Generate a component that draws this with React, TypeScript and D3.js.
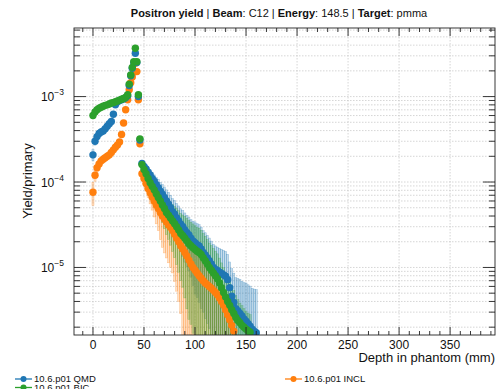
import React from "react";
import * as d3 from "d3";

// Depth bins (mm): entrance plateau, Bragg-peak region, distal tail
const depth = [
  0, 2, 4, 6, 8, 10, 12, 14, 16, 18, 20, 22, 24, 26, 28, 30, 32, 34,
  35.5, 37, 38.5, 40, 41.5, 43, 44.5, 46,
  48, 50, 52, 54, 56, 58, 60, 62, 64, 66, 68, 70, 72, 74, 76, 78, 80, 82, 84, 86,
  88, 90, 92, 94, 96, 98, 100, 102, 104, 106, 108, 110, 112, 114, 116, 118, 120,
  122, 124, 126, 128, 130, 132, 134, 136, 138, 140, 142, 144, 146, 148, 150, 152,
  154, 156, 158, 160,
];

// 10.6.p01 QMD
const qmdYield: (number | null)[] = [
  2.08e-4, 3.0e-4, 3.4e-4, 3.7e-4, 3.85e-4, 3.95e-4, 4.2e-4, 4.5e-4, 4.8e-4, 5.1e-4,
  6.2e-4, 8.0e-4, 8.7e-4, 9.0e-4, 9.2e-4, 9.4e-4, 9.7e-4, 1.02e-3,
  1.35e-3, 1.75e-3, 2.15e-3, 2.5e-3, 3.22e-3, 2.5e-3, 1.0e-3, 3.1e-4,
  1.65e-4, 1.52e-4, 1.42e-4, 1.3e-4, 1.21e-4, 1.1e-4, 1.02e-4, 9.3e-5, 8.6e-5, 7.8e-5,
  7.2e-5, 6.6e-5, 6.0e-5, 5.5e-5, 5.0e-5, 4.5e-5, 4.2e-5, 3.8e-5, 3.5e-5, 3.2e-5,
  3.0e-5, 2.75e-5, 2.55e-5, 2.4e-5, 2.2e-5, 2.05e-5, 1.95e-5, 1.85e-5, 1.78e-5, 1.65e-5,
  1.5e-5, 1.4e-5, 1.3e-5, 1.2e-5, 1.1e-5, 1.0e-5, 9.5e-6, 9.2e-6, 8.8e-6, 8.5e-6,
  8.2e-6, 7.9e-6, 7.2e-6, 5.8e-6, 4.6e-6, 3.9e-6, 3.3e-6, 3.1e-6, 2.9e-6, 2.7e-6,
  2.5e-6, 2.35e-6, 2.2e-6, 2.05e-6, 1.9e-6, 1.8e-6, 1.72e-6,
];
const qmdRelErr: (number | null)[] = [
  0.15, 0.1, 0.08, 0.07, 0.07, 0.06, 0.06, 0.06, 0.05, 0.05, 0.05, 0.05, 0.05, 0.04, 0.04, 0.04, 0.04, 0.04,
  0.04, 0.04, 0.04, 0.03, 0.03, 0.03, 0.04, 0.06,
  0.08, 0.09, 0.11, 0.13, 0.15, 0.17, 0.19, 0.22, 0.25, 0.27,
  0.3, 0.32, 0.35, 0.38, 0.4, 0.42, 0.45, 0.48, 0.5, 0.52,
  0.55, 0.58, 0.6, 0.62, 0.65, 0.7, 0.75, 0.76, 0.78, 0.8,
  0.8, 0.82, 0.83, 0.84, 0.85, 0.86, 0.88, 0.88, 0.9, 0.92,
  0.93, 0.95, 0.98, 1.0, 1.1, 1.2, 1.3, 1.4, 1.5, 1.55,
  1.65, 1.8, 1.85, 1.95, 2.0, 2.1, 2.2,
];

// 10.6.p01 BIC
const bicYield: (number | null)[] = [
  6.0e-4, 6.6e-4, 7.0e-4, 7.3e-4, 7.5e-4, 7.7e-4, 7.9e-4, 8.0e-4, 8.2e-4, 8.4e-4,
  8.5e-4, 8.7e-4, 8.9e-4, 9.1e-4, 9.3e-4, 9.5e-4, 9.8e-4, 1.05e-3,
  1.4e-3, 1.79e-3, 2.2e-3, 2.56e-3, 3.68e-3, 2.56e-3, 1.05e-3, 3.2e-4,
  1.6e-4, 1.4e-4, 1.25e-4, 1.1e-4, 9.8e-5, 8.9e-5, 8.1e-5, 7.3e-5, 6.6e-5, 6.0e-5,
  5.4e-5, 4.9e-5, 4.4e-5, 4.1e-5, 3.8e-5, 3.5e-5, 3.25e-5, 3.0e-5, 2.75e-5, 2.5e-5,
  2.35e-5, 2.2e-5, 2.05e-5, 1.9e-5, 1.8e-5, 1.7e-5, 1.62e-5, 1.55e-5, 1.5e-5, 1.42e-5,
  1.3e-5, 1.2e-5, 1.1e-5, 1.0e-5, 9.3e-6, 8.6e-6, 8.0e-6, 7.4e-6, 6.6e-6, 5.8e-6,
  5.1e-6, 4.5e-6, 4.0e-6, 3.6e-6, 3.2e-6, 2.9e-6, 2.6e-6, 2.4e-6, 2.25e-6, 2.1e-6,
  2.0e-6, 1.9e-6, 1.82e-6, 1.75e-6, null, null, null,
];
const bicRelErr: (number | null)[] = [
  0.06, 0.05, 0.05, 0.05, 0.04, 0.04, 0.04, 0.04, 0.04, 0.04, 0.04, 0.04, 0.04, 0.04, 0.04, 0.04, 0.04, 0.04,
  0.03, 0.03, 0.03, 0.03, 0.03, 0.03, 0.04, 0.06,
  0.1, 0.12, 0.14, 0.17, 0.2, 0.23, 0.26, 0.28, 0.3, 0.34,
  0.38, 0.42, 0.45, 0.48, 0.52, 0.56, 0.6, 0.64, 0.68, 0.72,
  0.75, 0.8, 0.84, 0.87, 0.88, 0.9, 0.9, 0.9, 0.92, 0.92,
  0.92, 0.93, 0.93, 0.93, 0.94, 0.94, 0.94, 0.95, 0.95, 0.95,
  0.95, 0.95, 0.95, 0.95, 0.9, 0.85, 0.8, 0.75, 0.7, 0.7,
  0.65, 0.6, 0.6, 0.6, null, null, null,
];

// 10.6.p01 INCL
const inclYield: (number | null)[] = [
  7.6e-5, 1.2e-4, 1.47e-4, 1.63e-4, 1.77e-4, 1.85e-4, 1.92e-4, 2.0e-4, 2.08e-4, 2.22e-4,
  2.38e-4, 2.55e-4, 2.72e-4, 2.95e-4, 3.6e-4, 4.9e-4, 7.0e-4, 9.2e-4,
  1.2e-3, 1.45e-3, 1.7e-3, 1.95e-3, 2.46e-3, 1.96e-3, 9.2e-4, 2.8e-4,
  1.25e-4, 1.1e-4, 9.6e-5, 8.4e-5, 7.5e-5, 6.7e-5, 6.0e-5, 5.4e-5, 4.9e-5, 4.4e-5,
  4.0e-5, 3.7e-5, 3.4e-5, 3.15e-5, 2.95e-5, 2.7e-5, 2.45e-5, 2.2e-5, 2.0e-5, 1.8e-5,
  1.65e-5, 1.5e-5, 1.36e-5, 1.22e-5, 1.1e-5, 1.0e-5, 9.3e-6, 8.6e-6, 8.0e-6, 7.5e-6,
  7.0e-6, 6.6e-6, 6.3e-6, 6.0e-6, 5.7e-6, 5.4e-6, 5.1e-6, 4.8e-6, 4.4e-6, 4.0e-6,
  3.6e-6, 3.2e-6, 2.8e-6, 2.45e-6, 2.1e-6, 1.8e-6,
  null, null, null, null, null, null, null, null, null, null, null,
];
const inclRelErr: (number | null)[] = [
  0.3, 0.15, 0.12, 0.1, 0.1, 0.1, 0.09, 0.09, 0.09, 0.08, 0.08, 0.08, 0.07, 0.07, 0.06, 0.05, 0.05, 0.04,
  0.04, 0.04, 0.03, 0.03, 0.03, 0.03, 0.04, 0.08,
  0.12, 0.15, 0.18, 0.22, 0.26, 0.3, 0.35, 0.4, 0.45, 0.52,
  0.57, 0.6, 0.62, 0.64, 0.66, 0.68, 0.72, 0.76, 0.8, 0.84,
  0.9, 0.95, 0.95, 0.95, 0.95, 0.95, 0.9, 0.85, 0.8, 0.8,
  0.78, 0.76, 0.75, 0.75, 0.72, 0.7, 0.7, 0.7, 0.68, 0.65,
  0.6, 0.55, 0.5, 0.45, 0.4, 0.35,
  null, null, null, null, null, null, null, null, null, null, null,
];

const xTickValues = [0, 50, 100, 150, 200, 250, 300, 350];
const yDecades = [1e-5, 1e-4, 1e-3];
const decadeExponents = ["\u22125", "\u22124", "\u22123"];

const seriesNames = ["10.6.p01 QMD", "10.6.p01 BIC", "10.6.p01 INCL"];
const seriesColors = ["#1f77b4", "#2ca02c", "#ff7f0e"];

const W = 496;
const H = 389;
const plot = { left: 74, right: 495, top: 28, bottom: 335 };
const FONT = "'Liberation Sans', Arial, Helvetica, sans-serif";

type Series = { name: string; color: string; values: (number | null)[]; rel: (number | null)[] };

export default function App() {
  const x = d3.scaleLinear().domain([-18.6, 394]).range([plot.left, plot.right]);
  const y = d3.scaleLog().domain([1.62e-6, 6.35e-3]).range([plot.bottom, plot.top]);
  const [yMin] = y.domain();

  const series: Series[] = [
    { name: seriesNames[0], color: seriesColors[0], values: qmdYield, rel: qmdRelErr },
    { name: seriesNames[1], color: seriesColors[1], values: bicYield, rel: bicRelErr },
    { name: seriesNames[2], color: seriesColors[2], values: inclYield, rel: inclRelErr },
  ];

  // half-width of each bin from the spacing to its neighbours
  const halfWidth = depth.map((d, i) => {
    const prev = i > 0 ? d - depth[i - 1] : Infinity;
    const next = i < depth.length - 1 ? depth[i + 1] - d : Infinity;
    return Math.min(prev, next) / 2;
  });

  // minor log ticks
  const minorY: number[] = [];
  for (let e = -6; e <= -3; e++) {
    for (let k = 1; k <= 9; k++) {
      const v = k * Math.pow(10, e);
      if (v >= 1.62e-6 && v <= 6.35e-3) minorY.push(v);
    }
  }
  const minorX = d3.range(-10, 395, 10).filter((v) => v % 50 !== 0);

  const barOrder = [0, 2, 1];
  const pointOrder = [2, 0, 1];

  return (
    <div style={{ position: "absolute", left: 0, top: 0 }}>
      <svg width={W} height={H} style={{ display: "block", background: "#fff" }} fontFamily={FONT}>
        <defs>
          <clipPath id="plotArea">
            <rect x={plot.left} y={plot.top} width={plot.right - plot.left} height={plot.bottom - plot.top} />
          </clipPath>
        </defs>

        {/* grid */}
        <g stroke="#c4c4c4" strokeWidth={0.7} strokeDasharray="1.5,1.5">
          {xTickValues.map((v) => (
            <line key={"gx" + v} x1={x(v)} x2={x(v)} y1={plot.top} y2={plot.bottom} />
          ))}
          {minorY.map((v) => (
            <line key={"gy" + v} x1={plot.left} x2={plot.right} y1={y(v)} y2={y(v)} />
          ))}
        </g>

        {/* error boxes */}
        <g clipPath="url(#plotArea)">
          {barOrder.map((si) => {
            const s = series[si];
            return (
              <g key={"bars" + si} fill={s.color} fillOpacity={0.24} stroke={s.color} strokeOpacity={0.45} strokeWidth={0.5}>
                {s.values.map((v, i) => {
                  const r = s.rel[i];
                  if (v == null || r == null) return null;
                  const lo = v * (1 - r);
                  const hi = v * (1 + r);
                  const yLo = lo > yMin ? y(lo) : plot.bottom + 2;
                  const yHi = y(hi);
                  const x0 = x(depth[i] - halfWidth[i]);
                  const x1 = x(depth[i] + halfWidth[i]);
                  return <rect key={i} x={x0} y={yHi} width={Math.max(0.8, x1 - x0)} height={Math.max(0.5, yLo - yHi)} />;
                })}
              </g>
            );
          })}
        </g>

        {/* markers */}
        <g clipPath="url(#plotArea)">
          {pointOrder.map((si) => {
            const s = series[si];
            return (
              <g key={"pts" + si} fill={s.color}>
                {s.values.map((v, i) =>
                  v == null ? null : <circle key={i} cx={x(depth[i])} cy={y(v)} r={3.7} />
                )}
              </g>
            );
          })}
        </g>

        {/* frame and ticks */}
        <g stroke="#222" strokeWidth={0.9} fill="none">
          <rect x={plot.left} y={plot.top} width={plot.right - plot.left} height={plot.bottom - plot.top} />
          {xTickValues.map((v) => (
            <g key={"tx" + v}>
              <line x1={x(v)} x2={x(v)} y1={plot.bottom} y2={plot.bottom - 8} />
              <line x1={x(v)} x2={x(v)} y1={plot.top} y2={plot.top + 8} />
            </g>
          ))}
          {minorX.map((v) => (
            <g key={"mx" + v}>
              <line x1={x(v)} x2={x(v)} y1={plot.bottom} y2={plot.bottom - 4} />
              <line x1={x(v)} x2={x(v)} y1={plot.top} y2={plot.top + 4} />
            </g>
          ))}
          {minorY.map((v) => {
            const major = yDecades.includes(v);
            const len = major ? 12 : 6;
            return (
              <g key={"ty" + v}>
                <line x1={plot.left} x2={plot.left + len} y1={y(v)} y2={y(v)} />
                <line x1={plot.right} x2={plot.right - len} y1={y(v)} y2={y(v)} />
              </g>
            );
          })}
        </g>

        {/* x tick labels */}
        <g fontSize={12} fill="#111" textAnchor="middle">
          {xTickValues.map((v) => (
            <text key={"lx" + v} x={x(v)} y={348.5}>
              {v}
            </text>
          ))}
        </g>

        {/* y tick labels */}
        <g fill="#111">
          {yDecades.map((v, i) => (
            <text key={"ly" + v} x={64} y={y(v) + 4.5} textAnchor="end" fontSize={12}>
              10
              <tspan fontSize={8.5} dy={-6}>
                {decadeExponents[i]}
              </tspan>
            </text>
          ))}
        </g>

        {/* axis titles */}
        <text x={plot.right} y={362} textAnchor="end" fontSize={13} fill="#111">
          Depth in phantom (mm)
        </text>
        <text transform={`translate(32,181) rotate(-90)`} textAnchor="middle" fontSize={13} fill="#111">
          Yield/primary
        </text>

        {/* title */}
        <text x={279} y={17} textAnchor="middle" fontSize={11} fill="#111">
          <tspan fontWeight="bold">Positron yield</tspan>
          <tspan> | </tspan>
          <tspan fontWeight="bold">Beam</tspan>
          <tspan>: C12 | </tspan>
          <tspan fontWeight="bold">Energy</tspan>
          <tspan>: 148.5 | </tspan>
          <tspan fontWeight="bold">Target</tspan>
          <tspan>: pmma</tspan>
        </text>

        {/* legend */}
        <g fontSize={9.5} fill="#111">
          {[
            { si: 0, lx: 15, ly: 379 },
            { si: 1, lx: 15, ly: 387.5 },
            { si: 2, lx: 285, ly: 379 },
          ].map(({ si, lx, ly }) => (
            <g key={"lg" + si}>
              <line x1={lx} x2={lx + 17} y1={ly} y2={ly} stroke={seriesColors[si]} strokeWidth={1.3} />
              <circle cx={lx + 8.5} cy={ly} r={3} fill={seriesColors[si]} />
              <text x={lx + 19} y={ly + 3.3}>
                {seriesNames[si]}
              </text>
            </g>
          ))}
        </g>
      </svg>
    </div>
  );
}
